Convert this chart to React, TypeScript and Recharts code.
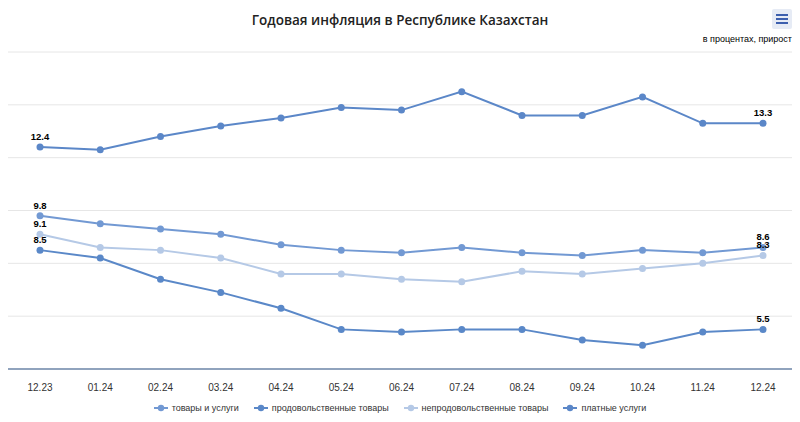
import { LineChart, Line, XAxis, YAxis, CartesianGrid } from "recharts";

const months = ["12.23", "01.24", "02.24", "03.24", "04.24", "05.24", "06.24", "07.24", "08.24", "09.24", "10.24", "11.24", "12.24"];
const total = [9.8, 9.5, 9.3, 9.1, 8.7, 8.5, 8.4, 8.6, 8.4, 8.3, 8.5, 8.4, 8.6];
const food = [8.5, 8.2, 7.4, 6.9, 6.3, 5.5, 5.4, 5.5, 5.5, 5.1, 4.9, 5.4, 5.5];
const nonFood = [9.1, 8.6, 8.5, 8.2, 7.6, 7.6, 7.4, 7.3, 7.7, 7.6, 7.8, 8.0, 8.3];
const services = [12.4, 12.3, 12.8, 13.2, 13.5, 13.9, 13.8, 14.5, 13.6, 13.6, 14.3, 13.3, 13.3];
const yTicks = [4, 6, 8, 10, 12, 14, 16];

const series = [
  { key: "total", name: "товары и услуги", color: "#7299d3" },
  { key: "food", name: "продовольственные товары", color: "#5a88c8" },
  { key: "nonFood", name: "непродовольственные товары", color: "#b5c9e6" },
  { key: "services", name: "платные услуги", color: "#5b87c8" },
];

const data = months.map((m, i) => ({
  month: m,
  total: total[i],
  food: food[i],
  nonFood: nonFood[i],
  services: services[i],
}));

const FONT = "'Liberation Sans', Arial, sans-serif";

// only first and last points get a value label
function EdgeLabel(props: any) {
  const { x, y, value, index } = props;
  if (index !== 0 && index !== months.length - 1) return null;
  return (
    <text x={x} y={y - 7} textAnchor="middle" fontSize={9.5} fontWeight="bold" fill="#000" fontFamily={FONT}>
      {value.toFixed(1)}
    </text>
  );
}

function Legend() {
  return (
    <div
      style={{
        position: "absolute",
        top: 403,
        left: 0,
        width: 800,
        display: "flex",
        justifyContent: "center",
        gap: 15,
        fontFamily: FONT,
        fontSize: 9,
        color: "#333",
      }}
    >
      {series.map((s) => (
        <div key={s.key} style={{ display: "flex", alignItems: "center", gap: 4 }}>
          <svg width={14} height={10}>
            <line x1={0} y1={5} x2={14} y2={5} stroke={s.color} strokeWidth={2} />
            <circle cx={7} cy={5} r={3.2} fill={s.color} />
          </svg>
          <span>{s.name}</span>
        </div>
      ))}
    </div>
  );
}

export default function App() {
  return (
    <div style={{ position: "relative", width: 800, height: 422, margin: -8, background: "#fff", fontFamily: FONT }}>
      <div
        style={{
          position: "absolute",
          top: 11,
          left: 0,
          width: 800,
          textAlign: "center",
          fontFamily: "'Open Sans', sans-serif",
          fontWeight: 600,
          fontSize: 13.5,
          color: "#222",
        }}
      >
        Годовая инфляция в Республике Казахстан
      </div>
      <div
        style={{
          position: "absolute",
          top: 9,
          left: 772,
          width: 20,
          height: 20,
          background: "#e6ebf5",
          borderRadius: 2,
        }}
      >
        <svg width={20} height={20}>
          {[6, 10, 14].map((y) => (
            <line key={y} x1={4} x2={16} y1={y} y2={y} stroke="#3c5fae" strokeWidth={2} />
          ))}
        </svg>
      </div>
      <div style={{ position: "absolute", top: 34, right: 8, fontSize: 9, color: "#000" }}>в процентах, прирост</div>
      <div style={{ position: "absolute", top: 0, left: 0 }}>
        <LineChart width={800} height={422} data={data} margin={{ top: 52, right: 7, bottom: 23, left: 8 }}>
          <CartesianGrid vertical={false} stroke="#e6e6e6" />
          <XAxis
            dataKey="month"
            height={30}
            padding={{ left: 32, right: 30 }}
            tick={{ fill: "#333", fontSize: 10, fontFamily: FONT }}
            tickLine={false}
            axisLine={{ stroke: "#6f88ab", strokeWidth: 1.5 }}
            tickMargin={9}
          />
          <YAxis hide domain={[4, 16]} ticks={yTicks} />
          {series.map((s) => (
            <Line
              key={s.key}
              dataKey={s.key}
              name={s.name}
              type="linear"
              stroke={s.color}
              strokeWidth={2}
              dot={{ r: 3.5, fill: s.color, stroke: s.color, strokeWidth: 0 }}
              label={<EdgeLabel />}
              isAnimationActive={false}
            />
          ))}
        </LineChart>
      </div>
      <Legend />
    </div>
  );
}
